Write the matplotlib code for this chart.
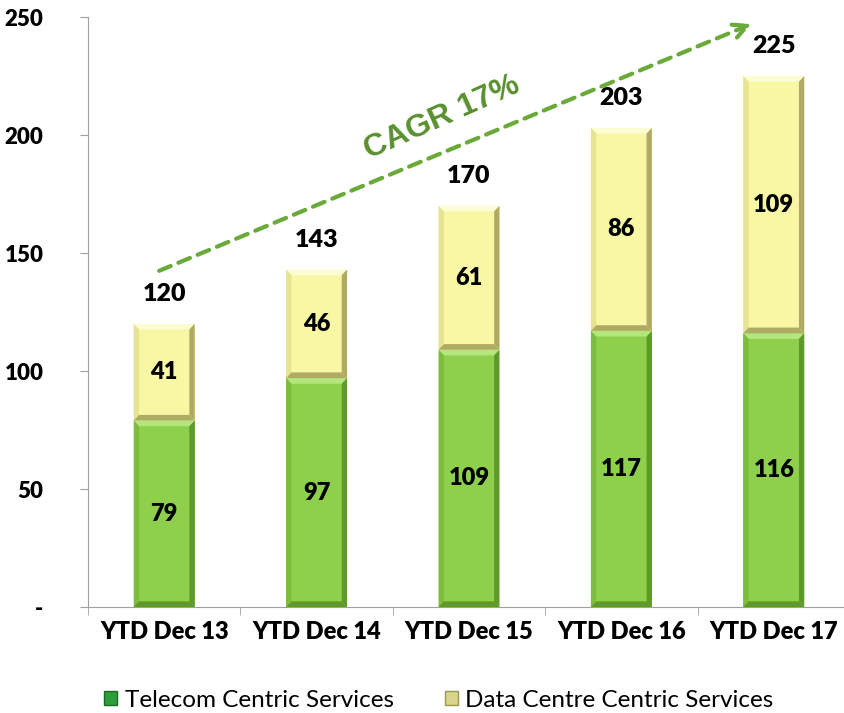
import matplotlib.pyplot as plt
from matplotlib.patches import Polygon, Rectangle
import numpy as np

categories = ['YTD Dec 13', 'YTD Dec 14', 'YTD Dec 15', 'YTD Dec 16', 'YTD Dec 17']
telecom = [79, 97, 109, 117, 116]
datacentre = [41, 46, 61, 86, 109]
totals = [120, 143, 170, 203, 225]
yticks = [0, 50, 100, 150, 200, 250]
ytick_labels = ['-', '50', '100', '150', '200', '250']

plt.rcParams['font.family'] = ['Lato', 'DejaVu Sans']
BW = 'heavy'

fig = plt.figure(figsize=(8.44, 7.13), dpi=100)
ax = fig.add_axes([88/844, 106/713, 762/844, 590/713])
ax.set_xlim(-0.5, 4.5)
ax.set_ylim(0, 250)

w = 0.4
bx = 0.035   # bevel in x data units
by = 2.4     # bevel in y data units


def bevel_bar(x, y0, h, face, light, dark, side):
    l, r = x - w/2, x + w/2
    b, t = y0, y0 + h
    ax.add_patch(Rectangle((l, b), w, h, facecolor=face, edgecolor='none', zorder=2))
    ax.add_patch(Polygon([(l, t), (r, t), (r-bx, t-by), (l+bx, t-by)], facecolor=light, edgecolor='none', zorder=3))
    ax.add_patch(Polygon([(l, b), (l, t), (l+bx, t-by), (l+bx, b+by)], facecolor=side, edgecolor='none', zorder=3))
    ax.add_patch(Polygon([(r, b), (r, t), (r-bx, t-by), (r-bx, b+by)], facecolor=dark, edgecolor='none', zorder=3))
    ax.add_patch(Polygon([(l, b), (r, b), (r-bx, b+by), (l+bx, b+by)], facecolor=dark, edgecolor='none', zorder=3))


x = np.arange(len(categories))
for i in x:
    bevel_bar(i, 0, telecom[i], '#8ed04c', '#b4e67e', '#5e9a2a', '#7cbd3c')
    bevel_bar(i, telecom[i], datacentre[i], '#f8f7a4', '#fdfdd4', '#aeac62', '#e6e48e')
    ax.text(i, telecom[i]/2, str(telecom[i]), ha='center', va='center',
            fontsize=17, fontweight=BW, zorder=5)
    ax.text(i, telecom[i] + datacentre[i]/2, str(datacentre[i]), ha='center', va='center',
            fontsize=17, fontweight=BW, zorder=5)
    ax.text(i, totals[i] + 8, str(totals[i]), ha='center', va='bottom',
            fontsize=18, fontweight=BW, zorder=5)

# CAGR arrow
ax.annotate('', xy=(3.87, 247.5), xytext=(-0.05, 142),
            arrowprops=dict(arrowstyle='->', color='#6aaa3a', lw=3, linestyle=(0, (3, 2)),
                            mutation_scale=25), annotation_clip=False, zorder=6)
ax.text(1.82, 207.5, 'CAGR 17%', color='#5a9030', fontsize=23, fontweight='bold',
        family='Liberation Sans', rotation=24, ha='center', va='center',
        rotation_mode='anchor')

ax.set_xticks(x)
ax.set_xticklabels(categories, fontsize=17, fontweight=BW)
ax.set_xticks(np.arange(-0.5, 4.6, 1), minor=True)
ax.tick_params(axis='x', which='major', length=0, pad=10)
ax.tick_params(axis='x', which='minor', length=6, color='#a0a0a0', direction='out')
ax.set_yticks(yticks)
ax.set_yticklabels(ytick_labels, fontsize=16, fontweight=BW)
ax.tick_params(axis='y', length=6, color='#a0a0a0', pad=26)
for s in ['top', 'right']:
    ax.spines[s].set_visible(False)
for s in ['left', 'bottom']:
    ax.spines[s].set_color('#a0a0a0')

handles = [Rectangle((0, 0), 1, 1, facecolor='#2e9e3a', edgecolor='#1c6a25'),
           Rectangle((0, 0), 1, 1, facecolor='#d8d68a', edgecolor='#9a9850')]
fig.legend(handles, ['Telecom Centric Services', 'Data Centre Centric Services'],
           loc='center', bbox_to_anchor=(0.52, 0.018), ncol=2, frameon=False,
           fontsize=17.5, handlelength=0.55, handleheight=0.55, handletextpad=0.3,
           columnspacing=2.1)

fig.savefig('out.png', dpi=100)
